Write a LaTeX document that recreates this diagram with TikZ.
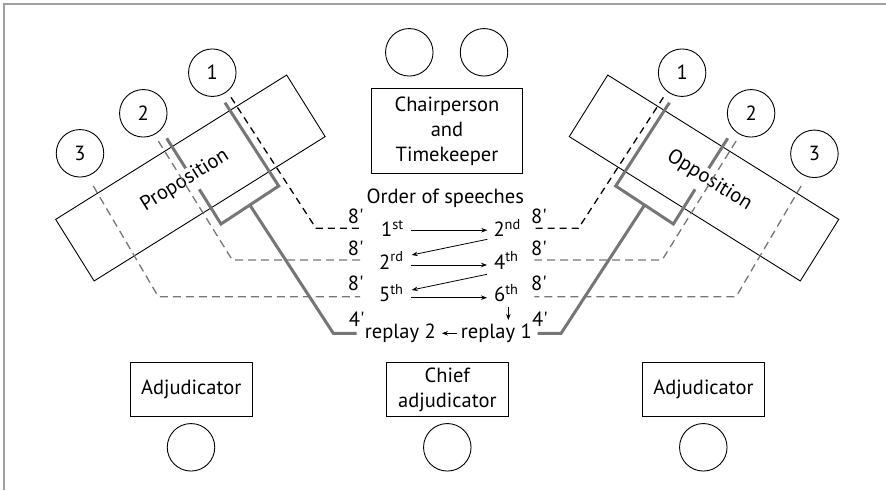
\documentclass[tikz,border=0pt]{standalone}
\usepackage{fontspec}
\setmainfont{PT Sans}
\usetikzlibrary{arrows.meta}
\definecolor{lgray}{RGB}{118,118,118}
\definecolor{fgray}{RGB}{160,160,160}
\newcommand\debateside{%
  \draw[bdash] (231,97.3) -- (316,228.3) -- (360,228.3);
  \draw[gdash] (158.3,141) -- (232.3,260) -- (360,260);
  \draw[gdash] (93.3,186) -- (158.3,296.7) -- (360,296.7);
  \draw[spk] (166.7,138.3) -- (185.7,168.3);
  \draw[spk] (225,102.7) -- (278.7,186) -- (221,224) -- (199.3,189.3);
  \draw[spk] (249.85,205) -- (333.3,333.3) -- (356.7,333.3);
}
\begin{document}
\begin{tikzpicture}[x=1pt,y=-1pt,
  font=\fontsize{20.5}{25}\selectfont,
  seat/.style={circle,draw,line width=0.9pt,minimum size=47.5pt,inner sep=0pt},
  box/.style={draw,line width=0.9pt,align=center,inner sep=0pt},
  tbl/.style={draw,line width=0.9pt,inner sep=0pt},
  spk/.style={draw=lgray,line width=3pt},
  bdash/.style={draw,line width=1.3pt,dash pattern=on 7pt off 5pt},
  gdash/.style={draw=lgray,line width=1.3pt,dash pattern=on 8pt off 5pt},
  arr/.style={-{Stealth[length=6pt,width=4.5pt]},line width=0.8pt},
  lbl/.style={inner sep=0pt,anchor=base},
  sp/.style={inner sep=0pt,anchor=base west},
]
\useasboundingbox (0,0) rectangle (886,490);
\draw[fgray,line width=2pt] (4,490) -- (4,4) -- (886,4);

% tables
\node[tbl,rotate=32,minimum width=272.4pt,minimum height=72.6pt] (prop) at (190.4,178) {};
\node[tbl,rotate=-32,minimum width=272.4pt,minimum height=72.6pt] (opp) at (704,178) {};
\node[rotate=32] (proptext) at (185,180.5) {Proposition};
\node[rotate=-32] (opptext) at (709.4,180.5) {Opposition};

% speaker lines
\debateside
\begin{scope}[xshift=894.4pt,xscale=-1]
  \debateside
\end{scope}

% seats
\node[seat] (p1) at (212.3,72.7) {1};
\node[seat] (p2) at (143.3,113.3) {2};
\node[seat] (p3) at (80,153.3) {3};
\node[seat] (o1) at (682.1,72.7) {1};
\node[seat] (o2) at (751.1,113.3) {2};
\node[seat] (o3) at (814.4,153.8) {3};
\node[seat] (tc1) at (409.3,52.3) {};
\node[seat] (tc2) at (484,52.3) {};

% boxes
\node[box,minimum width=150.6pt,minimum height=85pt] (chair) at (447,130.8) {Chairperson\\and\\Timekeeper};
\node[box,minimum width=122.3pt,minimum height=54.4pt] (adjl) at (191.2,389.5) {Adjudicator};
\node[box,minimum width=122.7pt,minimum height=54.4pt] (chief) at (447.3,389.5) {Chief\\adjudicator};
\node[box,minimum width=122.7pt,minimum height=54.4pt] (adjr) at (703.5,389.5) {Adjudicator};
\node[seat] (sadjl) at (191,447.3) {};
\node[seat] (schief) at (447.3,447.3) {};
\node[seat] (sadjr) at (703.3,447.3) {};

% order of speeches
\node[lbl] (order) at (445.3,203.3) {Order of speeches};
\node[sp] (s1) at (381,236.7) {1\textsuperscript{st}};
\node[sp] (s2) at (493.3,236.7) {2\textsuperscript{nd}};
\node[sp] (s3) at (379,269.3) {2\textsuperscript{rd}};
\node[sp] (s4) at (494,269.3) {4\textsuperscript{th}};
\node[sp] (s5) at (379,301.7) {5\textsuperscript{th}};
\node[sp] (s6) at (494,301.7) {6\textsuperscript{th}};
\node[lbl] (rp2) at (400.3,338.3) {replay 2};
\node[lbl] (rp1) at (496.3,338.3) {replay 1};

\draw[arr] ([shift={(7,-6.5)}]s1.base east) -- ([shift={(-6,-6.5)}]s2.base west);
\draw[arr] ([shift={(-6,2.6)}]s2.base west) -- ([shift={(8,-14.3)}]s3.base east);
\draw[arr] ([shift={(7,-4.3)}]s3.base east) -- ([shift={(-7,-4.3)}]s4.base west);
\draw[arr] ([shift={(-7,5)}]s4.base west) -- ([shift={(8,-11.7)}]s5.base east);
\draw[arr] ([shift={(7,-4)}]s5.base east) -- ([shift={(-7,-4)}]s6.base west);
\draw[arr] ([shift={(14.3,5)}]s6.base west) -- ([shift={(12,-18.3)}]rp1.base);
\draw[arr] ([shift={(-3.4,-5)}]rp1.base west) -- ([shift={(6,-5)}]rp2.base east);

% time labels
\node[lbl] (l8a) at (355.7,223.3) {8\textquotesingle};
\node[lbl] (l8b) at (355.7,255) {8\textquotesingle};
\node[lbl] (l8c) at (355.7,290) {8\textquotesingle};
\node[lbl] (l4) at (356.7,326.7) {4\textquotesingle};
\node[lbl] (r8a) at (539,223.3) {8\textquotesingle};
\node[lbl] (r8b) at (539,255) {8\textquotesingle};
\node[lbl] (r8c) at (539,290) {8\textquotesingle};
\node[lbl] (r4) at (540,326.7) {4\textquotesingle};
\end{tikzpicture}
\end{document}
